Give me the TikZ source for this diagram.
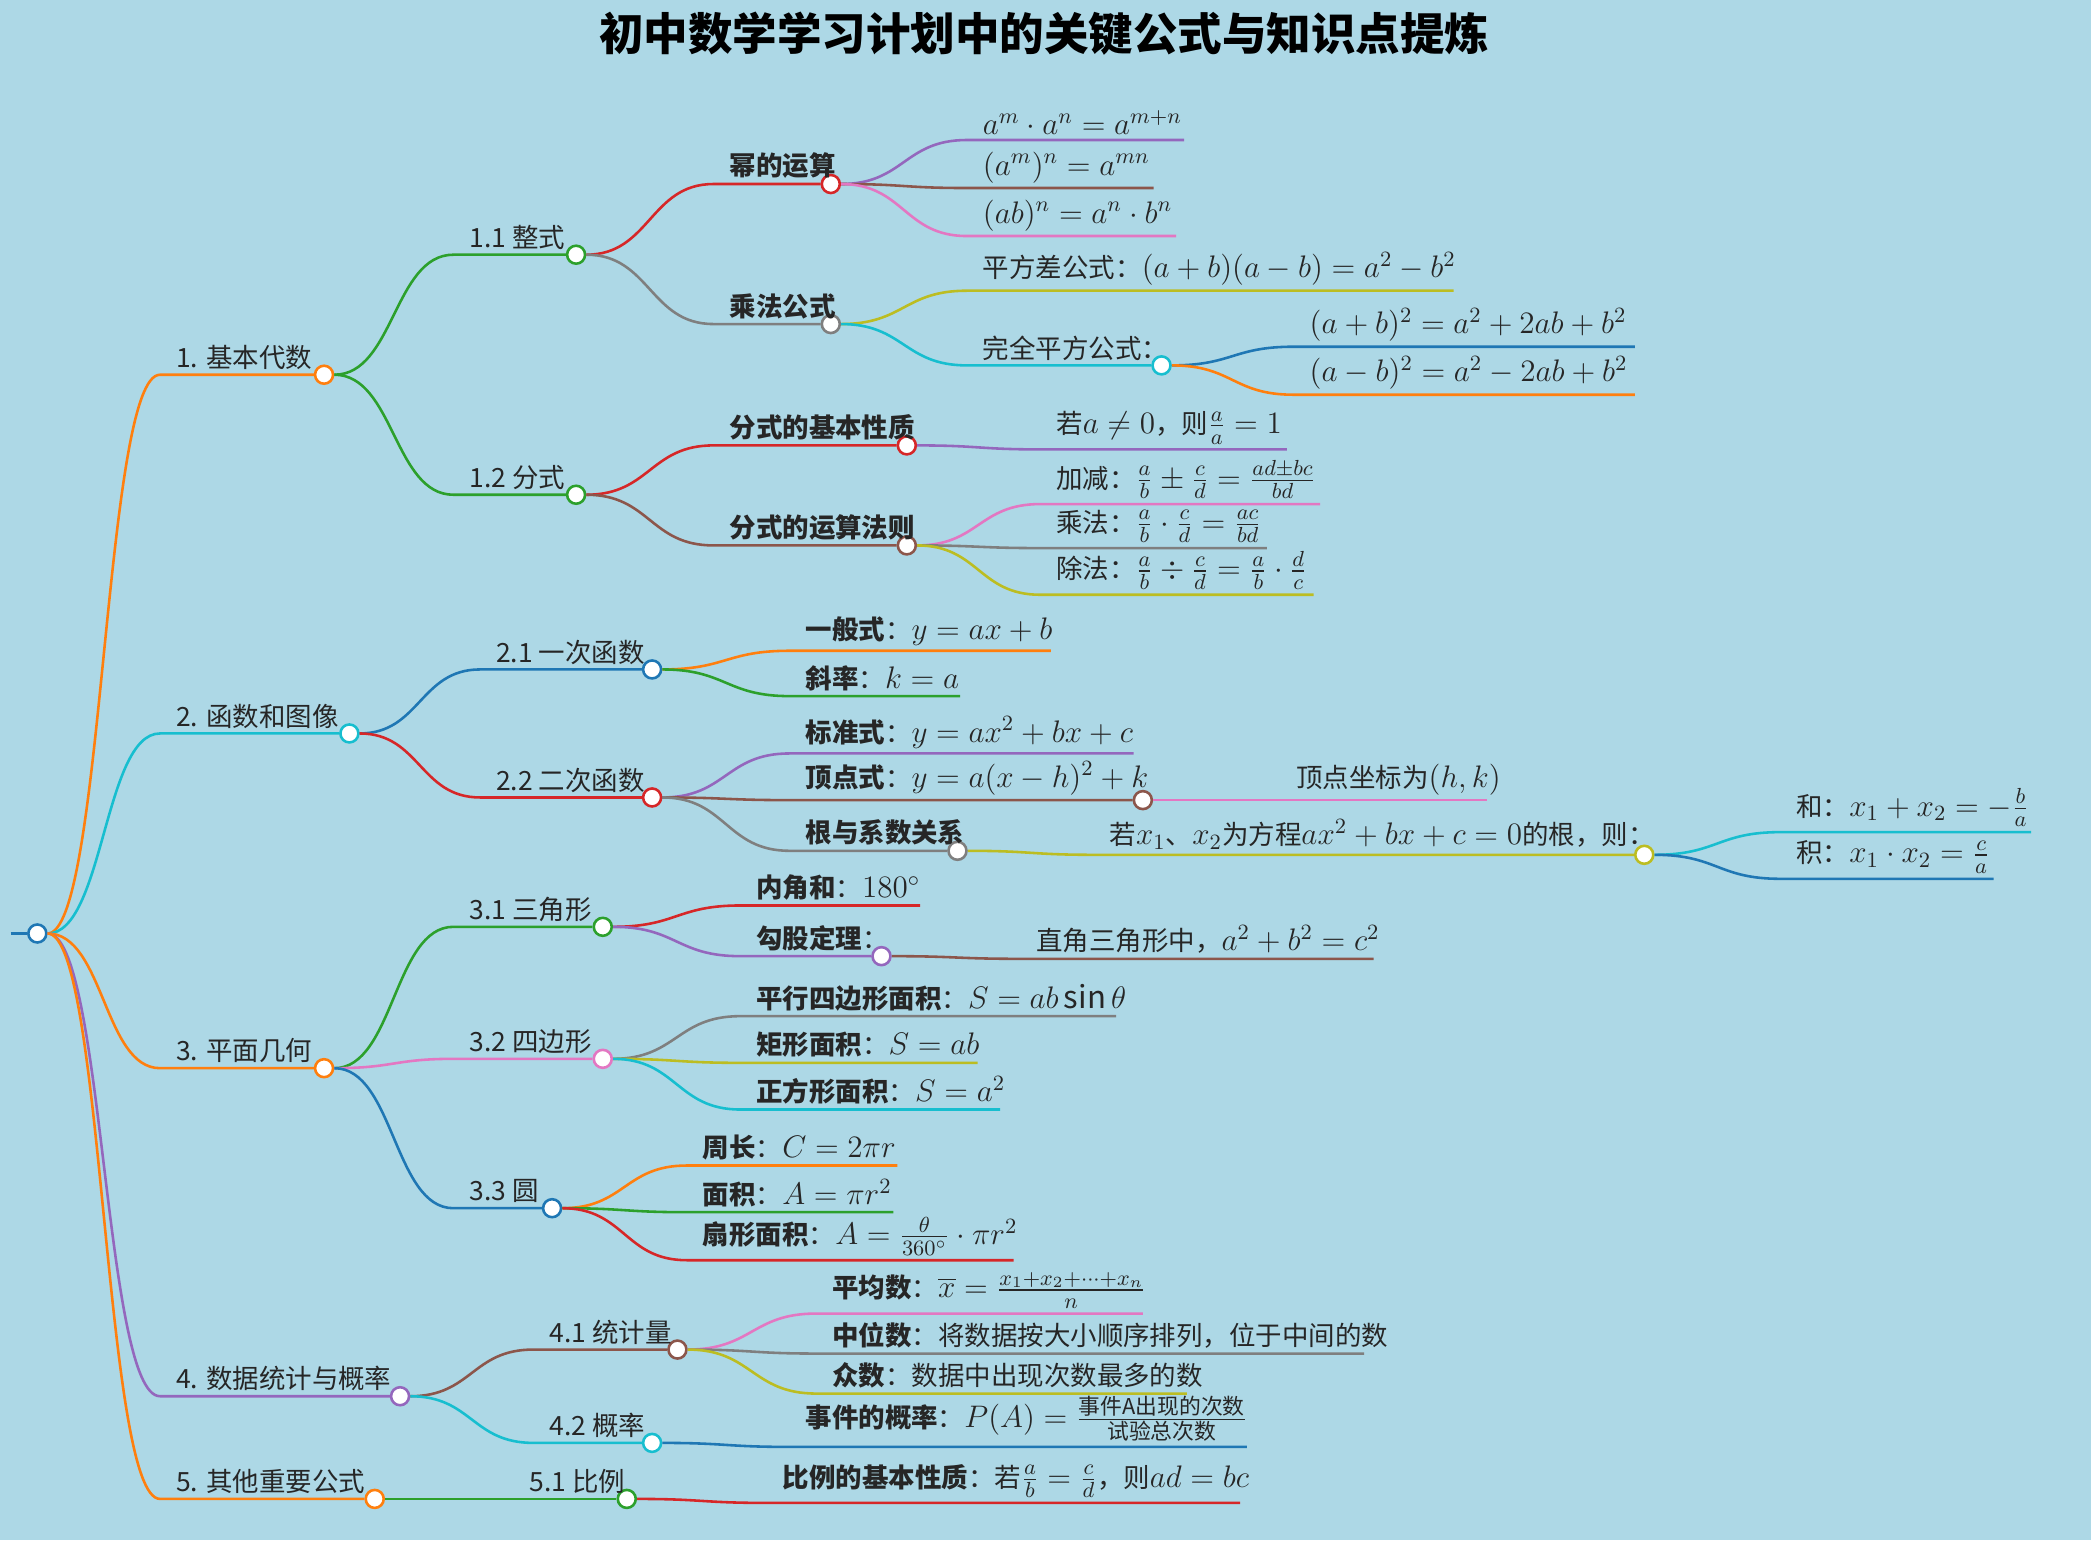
\RequirePackage{fix-cm}
\documentclass[tikz,border=0pt]{standalone}
\usepackage{amsmath}
\usepackage{fontspec}
\setmainfont{Noto Sans CJK SC}
\usetikzlibrary{positioning,calc}

\definecolor{bgblue}{RGB}{173,216,230}
\definecolor{cOrange}{RGB}{255,127,14}
\definecolor{cGreen}{RGB}{44,160,44}
\definecolor{cRed}{RGB}{214,39,40}
\definecolor{cPurple}{RGB}{148,103,189}
\definecolor{cBrown}{RGB}{140,86,75}
\definecolor{cPink}{RGB}{227,119,194}
\definecolor{cGray}{RGB}{127,127,127}
\definecolor{cOlive}{RGB}{188,189,34}
\definecolor{cCyan}{RGB}{23,190,207}
\definecolor{cBlue}{RGB}{31,119,180}

\tikzset{
  link/.style={line width=1.1pt},
  dot/.style={circle, fill=white, line width=1.1pt, minimum size=2.7mm, inner sep=0pt},
  lbl/.style={anchor=south west, inner sep=1pt, xshift=2mm, yshift=1pt,
    font=\fontsize{11.3}{13}\selectfont, text=black!85}
}
% larger math, as in the picture
\newcommand\fm[1]{{\fontsize{13.3}{15}\selectfont$#1$}}

% branch with a junction dot: name, parent, x start, x dot, y, colour, text
\newcommand\mmbranch[7]{%
  \coordinate (#1-s) at (#3,#5);
  \node[dot, draw=#6] (#1) at (#4,#5) {};
  \draw[link, #6] let \p1=(#2.east), \p2=(#1-s) in
    (\p1) .. controls (\x1/2+\x2/2,\y1) and (\x1/2+\x2/2,\y2) .. (\p2) -- (#1.west);
  \node[lbl] (#1-t) at (#1-s) {#7};
}
% leaf: name, parent, x start, x end, y, colour, text
\newcommand\mmleaf[7]{%
  \coordinate (#1-s) at (#3,#5);
  \coordinate (#1) at (#4,#5);
  \draw[link, #6] let \p1=(#2.east), \p2=(#1-s) in
    (\p1) .. controls (\x1/2+\x2/2,\y1) and (\x1/2+\x2/2,\y2) .. (\p2) -- (#1);
  \node[lbl] (#1-t) at (#1-s) {#7};
}

\begin{document}
\begin{tikzpicture}[x=0.02cm, y=-0.02cm]
  \fill[bgblue] (0,0) rectangle (1568,1155);
  \useasboundingbox (0,0) rectangle (1568,1155);

  \node[font=\fontsize{19}{22}\selectfont\bfseries] (title) at (783,25) {初中数学学习计划中的关键公式与知识点提炼};

  \coordinate (root-s) at (8,700);
  \node[dot, draw=cBlue] (root) at (28,700) {};
  \draw[link, cBlue] (root-s) -- (root.west);

  % 1. algebra
  \mmbranch{alg}{root}{120}{243}{281}{cOrange}{1. 基本代数}
  \mmbranch{poly}{alg}{340}{432}{191}{cGreen}{1.1 整式}
  \mmbranch{pow}{poly}{535}{623}{138}{cRed}{\textbf{幂的运算}}
  \mmleaf{powa}{pow}{725}{888}{105}{cPurple}{\fm{a^m\cdot a^n=a^{m+n}}}
  \mmleaf{powb}{pow}{725}{865}{141}{cBrown}{\fm{(a^m)^n=a^{mn}}}
  \mmleaf{powc}{pow}{725}{882}{177}{cPink}{\fm{(ab)^n=a^n\cdot b^n}}
  \mmbranch{mult}{poly}{535}{623}{243}{cGray}{\textbf{乘法公式}}
  \mmleaf{diffsq}{mult}{725}{1090}{218}{cOlive}{平方差公式：\fm{(a+b)(a-b)=a^2-b^2}}
  \mmbranch{fullsq}{mult}{725}{871}{274}{cCyan}{完全平方公式：}
  \mmleaf{fsqa}{fullsq}{970}{1226}{260}{cBlue}{\fm{(a+b)^2=a^2+2ab+b^2}}
  \mmleaf{fsqb}{fullsq}{970}{1226}{296}{cOrange}{\fm{(a-b)^2=a^2-2ab+b^2}}
  \mmbranch{frac}{alg}{340}{432}{371}{cGreen}{1.2 分式}
  \mmbranch{fprop}{frac}{535}{680}{334}{cRed}{\textbf{分式的基本性质}}
  \mmleaf{fpropa}{fprop}{780}{965}{337}{cPurple}{若\fm{a\neq 0}，则\fm{\frac{a}{a}=1}}
  \mmbranch{fops}{frac}{535}{680}{409}{cBrown}{\textbf{分式的运算法则}}
  \mmleaf{fadd}{fops}{780}{990}{378}{cPink}{加减：\fm{\frac{a}{b}\pm\frac{c}{d}=\frac{ad\pm bc}{bd}}}
  \mmleaf{fmul}{fops}{780}{950}{411}{cGray}{乘法：\fm{\frac{a}{b}\cdot\frac{c}{d}=\frac{ac}{bd}}}
  \mmleaf{fdiv}{fops}{780}{985}{446}{cOlive}{除法：\fm{\frac{a}{b}\div\frac{c}{d}=\frac{a}{b}\cdot\frac{d}{c}}}

  % 2. functions
  \mmbranch{func}{root}{120}{262}{550}{cCyan}{2. 函数和图像}
  \mmbranch{lin}{func}{360}{489}{502}{cBlue}{2.1 一次函数}
  \mmleaf{lina}{lin}{592}{788}{488}{cOrange}{\textbf{一般式}：\fm{y=ax+b}}
  \mmleaf{linb}{lin}{592}{720}{522}{cGreen}{\textbf{斜率}：\fm{k=a}}
  \mmbranch{quad}{func}{360}{489}{598}{cRed}{2.2 二次函数}
  \mmleaf{quada}{quad}{592}{850}{565}{cPurple}{\textbf{标准式}：\fm{y=ax^2+bx+c}}
  \mmbranch{vert}{quad}{592}{857}{600}{cBrown}{\textbf{顶点式}：\fm{y=a(x-h)^2+k}}
  \mmleaf{verta}{vert}{960}{1115}{600}{cPink}{顶点坐标为\fm{(h,k)}}
  \mmbranch{roots}{quad}{592}{718}{638}{cGray}{\textbf{根与系数关系}}
  \mmbranch{vieta}{roots}{820}{1233}{641}{cOlive}{若\fm{x_1}、\fm{x_2}为方程\fm{ax^2+bx+c=0}的根，则：}
  \mmleaf{vsum}{vieta}{1335}{1523}{624}{cCyan}{和：\fm{x_1+x_2=-\frac{b}{a}}}
  \mmleaf{vprod}{vieta}{1335}{1495}{659}{cBlue}{积：\fm{x_1\cdot x_2=\frac{c}{a}}}

  % 3. geometry
  \mmbranch{geo}{root}{120}{243}{801}{cOrange}{3. 平面几何}
  \mmbranch{tri}{geo}{340}{452}{695}{cGreen}{3.1 三角形}
  \mmleaf{tria}{tri}{555}{690}{679}{cRed}{\textbf{内角和}：\fm{180^\circ}}
  \mmbranch{pyth}{tri}{555}{661}{717}{cPurple}{\textbf{勾股定理}：}
  \mmleaf{pytha}{pyth}{765}{1030}{719}{cBrown}{直角三角形中，\fm{a^2+b^2=c^2}}
  \mmbranch{quadr}{geo}{340}{452}{794}{cPink}{3.2 四边形}
  \mmleaf{quadra}{quadr}{555}{837}{762}{cGray}{\textbf{平行四边形面积}：\fm{S=ab\sin\theta}}
  \mmleaf{quadrb}{quadr}{555}{733}{797}{cOlive}{\textbf{矩形面积}：\fm{S=ab}}
  \mmleaf{quadrc}{quadr}{555}{750}{832}{cCyan}{\textbf{正方形面积}：\fm{S=a^2}}
  \mmbranch{circ}{geo}{340}{414}{906}{cBlue}{3.3 圆}
  \mmleaf{circa}{circ}{515}{673}{874}{cOrange}{\textbf{周长}：\fm{C=2\pi r}}
  \mmleaf{circb}{circ}{515}{670}{909}{cGreen}{\textbf{面积}：\fm{A=\pi r^2}}
  \mmleaf{circc}{circ}{515}{760}{945}{cRed}{\textbf{扇形面积}：\fm{A=\frac{\theta}{360^\circ}\cdot\pi r^2}}

  % 4. statistics
  \mmbranch{stat}{root}{120}{300}{1047}{cPurple}{4. 数据统计与概率}
  \mmbranch{meas}{stat}{400}{508}{1012}{cBrown}{4.1 统计量}
  \mmleaf{measa}{meas}{612}{857}{985}{cPink}{\textbf{平均数}：\fm{\overline{x}=\frac{x_1+x_2+\cdots+x_n}{n}}}
  \mmleaf{measb}{meas}{612}{1023}{1015}{cGray}{\textbf{中位数}：将数据按大小顺序排列，位于中间的数}
  \mmleaf{measc}{meas}{612}{890}{1045}{cOlive}{\textbf{众数}：数据中出现次数最多的数}
  \mmbranch{prob}{stat}{400}{489}{1082}{cCyan}{4.2 概率}
  \mmleaf{proba}{prob}{592}{935}{1085}{cBlue}{\textbf{事件的概率}：\fm{P(A)=\frac{\text{事件A出现的次数}}{\text{试验总次数}}}}

  % 5. others
  \mmbranch{other}{root}{120}{281}{1124}{cOrange}{5. 其他重要公式}
  \mmbranch{ratio}{other}{385}{470}{1124}{cGreen}{5.1 比例}
  \mmleaf{ratioa}{ratio}{575}{930}{1127}{cRed}{\textbf{比例的基本性质}：若\fm{\frac{a}{b}=\frac{c}{d}}，则\fm{ad=bc}}
\end{tikzpicture}
\end{document}
